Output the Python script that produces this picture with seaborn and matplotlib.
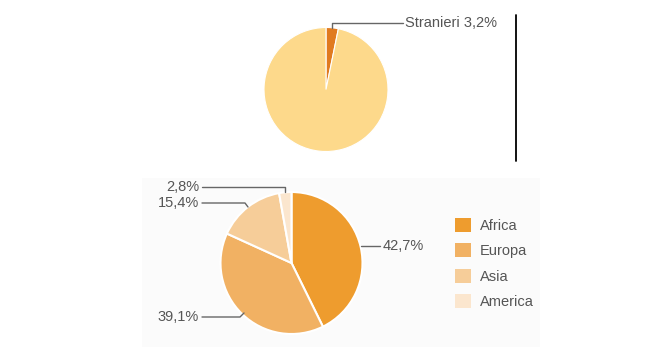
import matplotlib
matplotlib.use("Agg")
import matplotlib.pyplot as plt
import seaborn as sns
from matplotlib.patches import Rectangle

sns.set_theme(style="white")
plt.rcParams['font.family'] = ['Liberation Sans', 'DejaVu Sans']

# ---- data ----
top_labels = ["Stranieri", "Italiani"]
top_values = [3.2, 96.8]
top_colors = ["#E07A1F", "#FDD98B"]

cont_labels = ["Africa", "Europa", "Asia", "America"]
cont_values = [42.7, 39.1, 15.4, 2.8]
cont_texts = ["42,7%", "39,1%", "15,4%", "2,8%"]
cont_colors = ["#EE9C2E", "#F1B163", "#F6CD99", "#FBE6CE"]

W, H = 660, 355
fig = plt.figure(figsize=(W / 100, H / 100), dpi=100)
fig.patch.set_facecolor("white")
ax = fig.add_axes([0, 0, 1, 1])
ax.set_xlim(0, W)
ax.set_ylim(0, H)
ax.set_aspect("equal")
ax.axis("off")

def Y(py):
    return H - py

TXT = "#555555"
LINE = "#666666"
FS = 10.5

# light background panel for bottom chart
ax.add_patch(Rectangle((142, Y(347)), 398, 169, facecolor="#fbfbfb", edgecolor="none", zorder=0))

# vertical divider line
ax.plot([516, 516], [Y(15), Y(161)], color="black", lw=1.3, zorder=1)

# ---- top pie ----
ax.pie(top_values, colors=top_colors, startangle=90, counterclock=False,
       center=(326, Y(89.5)), radius=62, frame=True,
       wedgeprops=dict(edgecolor="white", linewidth=0.8))
ax.plot([332, 332, 403], [Y(28), Y(23), Y(23)], color=LINE, lw=1.0, zorder=3)
ax.text(405, Y(23), f"{top_labels[0]} 3,2%", color=TXT, fontsize=FS,
        va="center", ha="left")

# ---- bottom pie ----
wedges, _ = ax.pie(cont_values, colors=cont_colors, startangle=90, counterclock=False,
                   center=(291.5, Y(263)), radius=71, frame=True,
                   wedgeprops=dict(edgecolor="white", linewidth=1.5))
ax.set_xlim(0, W)
ax.set_ylim(0, H)
ax.axis("off")

# leader lines and labels
ax.plot([361, 380], [Y(246), Y(246)], color=LINE, lw=1.0, zorder=3)
ax.text(383, Y(246), cont_texts[0], color=TXT, fontsize=FS, va="center", ha="left")

ax.plot([244, 240, 202], [Y(313), Y(317), Y(317)], color=LINE, lw=1.0, zorder=3)
ax.text(199, Y(317), cont_texts[1], color=TXT, fontsize=FS, va="center", ha="right")

ax.plot([248, 245, 202], [Y(207), Y(203), Y(203)], color=LINE, lw=1.0, zorder=3)
ax.text(199, Y(203), cont_texts[2], color=TXT, fontsize=FS, va="center", ha="right")

ax.plot([285, 285, 202], [Y(192), Y(187), Y(187)], color=LINE, lw=1.0, zorder=3)
ax.text(199, Y(187), cont_texts[3], color=TXT, fontsize=FS, va="center", ha="right")

# legend
leg = fig.legend(wedges, cont_labels, loc="upper left",
                 bbox_to_anchor=(455 / W, (H - 218) / H), frameon=False,
                 borderpad=0, borderaxespad=0, handlelength=1.1, handleheight=1.1,
                 handletextpad=0.6, labelspacing=0.72, fontsize=FS)
for t in leg.get_texts():
    t.set_color(TXT)
for h in leg.legend_handles:
    h.set_edgecolor("none")

fig.savefig("out.png", dpi=100, facecolor="white")
